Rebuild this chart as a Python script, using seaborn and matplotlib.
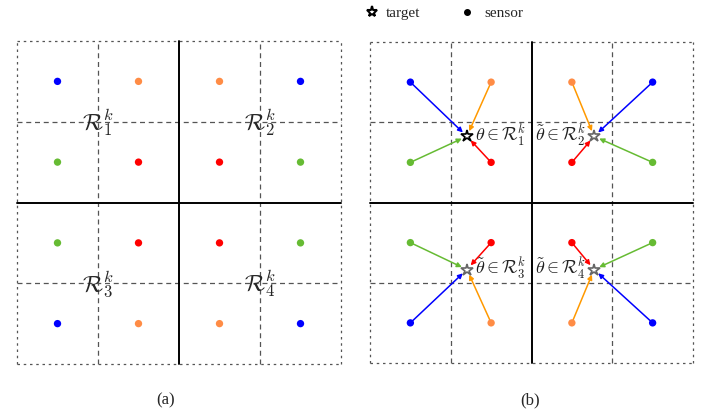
import matplotlib
matplotlib.use("Agg")
import matplotlib.pyplot as plt
import seaborn as sns
import pandas as pd

sns.set_style("white")
plt.rcParams["font.family"] = ["Liberation Serif", "DejaVu Serif"]
plt.rcParams["mathtext.fontset"] = "cm"

# ---- data ----
sensor_x = [-3, -1, -3, -1, 1, 3, 1, 3, -3, -1, -3, -1, 1, 3, 1, 3]
sensor_y = [3, 3, 1, 1, 3, 3, 1, 1, -1, -1, -3, -3, -1, -1, -3, -3]
sensor_kind = ["blue", "orange", "green", "red",
               "orange", "blue", "red", "green",
               "green", "red", "blue", "orange",
               "red", "green", "orange", "blue"]
sensor_quadrant = [1, 1, 1, 1, 2, 2, 2, 2, 3, 3, 3, 3, 4, 4, 4, 4]

target_x = [-1.6, 1.55, -1.6, 1.55]
target_y = [1.65, 1.65, -1.67, -1.67]
target_labels = [r"$\theta \in \mathcal{R}_1^k$", r"$\tilde{\theta} \in \mathcal{R}_2^k$",
                 r"$\tilde{\theta} \in \mathcal{R}_3^k$", r"$\tilde{\theta} \in \mathcal{R}_4^k$"]
region_labels = [r"$\mathcal{R}_1^k$", r"$\mathcal{R}_2^k$", r"$\mathcal{R}_3^k$", r"$\mathcal{R}_4^k$"]
region_x = [-2, 2, -2, 2]
region_y = [2, 2, -2, -2]

dot_palette = {"blue": "#0000ff", "orange": "#ff8c45", "green": "#66bb33", "red": "#ff0000"}
arrow_palette = {"blue": "#0000ff", "orange": "#ff9900", "green": "#66bb33", "red": "#ff0000"}

df = pd.DataFrame({"x": sensor_x, "y": sensor_y, "kind": sensor_kind, "q": sensor_quadrant})

fig = plt.figure(figsize=(7.05, 4.12), dpi=100)
ax1 = fig.add_axes([17 / 705, 48 / 412, 324 / 705, 323 / 412])
ax2 = fig.add_axes([370 / 705, 49 / 412, 323 / 705, 321 / 412])


def draw_grid(ax):
    ax.set_xlim(-4, 4)
    ax.set_ylim(-4, 4)
    ax.set_axis_off()
    g = "#555555"
    for v in (-4, 4):
        ax.plot([-4, 4], [v, v], color=g, lw=0.9, ls=(0, (2, 3)), clip_on=False, zorder=1)
        ax.plot([v, v], [-4, 4], color=g, lw=0.9, ls=(0, (2, 3)), clip_on=False, zorder=1)
    for v in (-2, 2):
        ax.plot([-4, 4], [v, v], color=g, lw=0.9, ls=(0, (4, 3)), clip_on=False, zorder=1)
        ax.plot([v, v], [-4, 4], color=g, lw=0.9, ls=(0, (4, 3)), clip_on=False, zorder=1)
    ax.plot([-4, 4], [0, 0], color="black", lw=1.4, clip_on=False, zorder=2)
    ax.plot([0, 0], [-4, 4], color="black", lw=1.4, clip_on=False, zorder=2)


for ax in (ax1, ax2):
    draw_grid(ax)
    sns.scatterplot(data=df, x="x", y="y", hue="kind", palette=dot_palette, ax=ax,
                    s=28, edgecolor="none", legend=False, zorder=5, clip_on=False)
    ax.set_xlim(-4, 4)
    ax.set_ylim(-4, 4)
    ax.set_axis_off()

for rx, ry, lab in zip(region_x, region_y, region_labels):
    ax1.text(rx, ry, lab, fontsize=17, ha="center", va="center", zorder=6)

for sx, sy, kind, q in zip(sensor_x, sensor_y, sensor_kind, sensor_quadrant):
    tx, ty = target_x[q - 1], target_y[q - 1]
    ax2.annotate("", xy=(tx, ty), xytext=(sx, sy),
                 arrowprops=dict(arrowstyle="-|>", color=arrow_palette[kind], lw=1.1,
                                 shrinkA=2, shrinkB=4, mutation_scale=7), zorder=4)

for i, (tx, ty, lab) in enumerate(zip(target_x, target_y, target_labels)):
    ec = "black" if i == 0 else "#666666"
    ax2.plot(tx, ty, marker="*", ms=9, mfc="white", mec=ec, mew=1.2, zorder=7)
    if tx < 0:
        ax2.text(tx + 0.2, ty + 0.02, lab, fontsize=13, ha="left", va="center", color="#222222")
    else:
        ax2.text(tx - 0.2, ty + 0.02, lab, fontsize=13, ha="right", va="center", color="#222222")

lx = fig.add_axes([0, 0, 1, 1], facecolor="none")
lx.set_xlim(0, 705)
lx.set_ylim(412, 0)
lx.set_axis_off()
lx.plot(372, 12, marker="*", ms=8, mfc="white", mec="black", mew=1.5)
lx.plot(467, 12, marker="o", ms=4, color="black")
lx.text(386, 13, "target", fontsize=11, va="center", ha="left")
lx.text(484, 13, "sensor", fontsize=11, va="center", ha="left")

lx.text(166, 400, "(a)", fontsize=12, ha="center", va="center")
lx.text(530, 400, "(b)", fontsize=12, ha="center", va="center")

fig.savefig("out.png", dpi=100)
